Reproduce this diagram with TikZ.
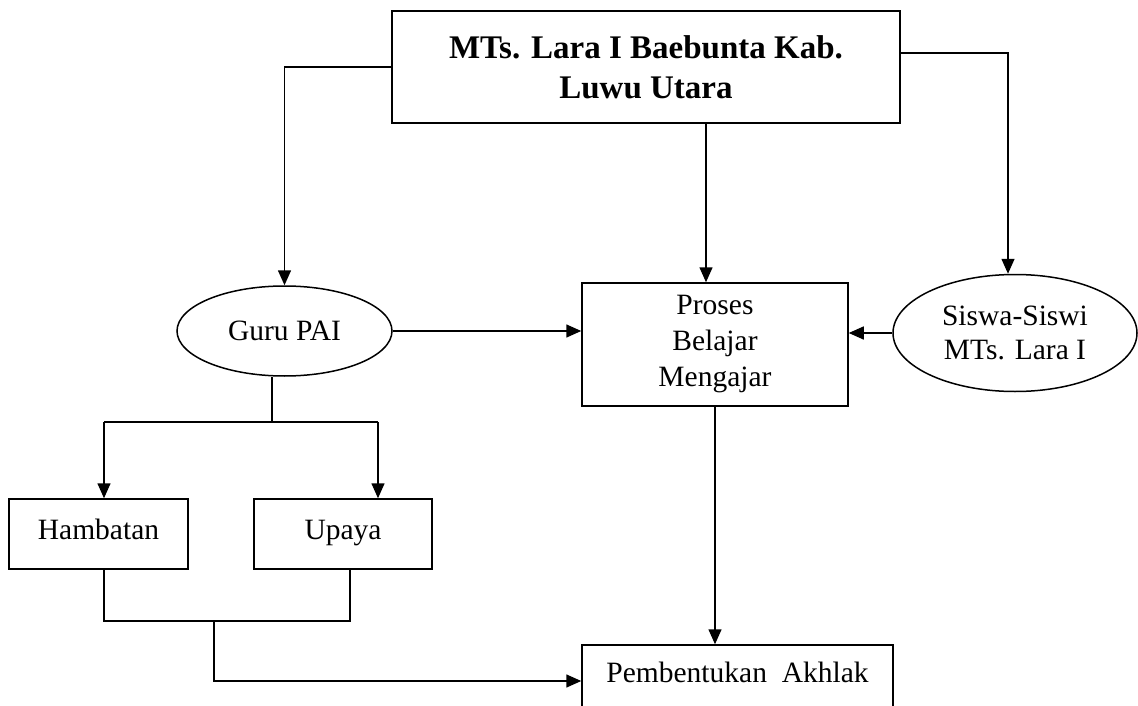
\documentclass[tikz,border=0pt]{standalone}
\usepackage{fontspec}
\setmainfont{Liberation Serif}
\usetikzlibrary{arrows.meta,shapes.geometric,calc}
\begin{document}
\begin{tikzpicture}[x=1pt,y=-1pt,
  line width=1.5pt,
  box/.style={draw,rectangle,inner sep=0pt,align=center,font=\fontsize{29.5}{36}\selectfont},
  oval/.style={draw,ellipse,inner sep=0pt,align=center,font=\fontsize{29.5}{34.5}\selectfont},
  arr/.style={-{Triangle[length=15pt,width=13pt]}},
  conn/.style={line width=1.5pt}]
\useasboundingbox (0,0) rectangle (1138,706);
\clip (0,0) rectangle (1138,706);
\node[box,minimum width=508pt,minimum height=112pt,font=\bfseries\fontsize{33}{40}\selectfont] (top) at (646,67) {MTs. Lara I Baebunta Kab.\\Luwu Utara};
\node[box,minimum width=266pt,minimum height=123pt] (proses) at (715,344.5) {Proses\\Belajar\\Mengajar};
\node[oval,minimum width=215pt,minimum height=90pt] (guru) at (284.5,331) {Guru PAI};
\node[oval,minimum width=244pt,minimum height=117pt] (siswa) at (1015,333) {Siswa-Siswi\\MTs. Lara I};
\node[box,minimum width=179pt,minimum height=70pt,text height=20pt,text depth=9pt] (hamb) at (98.5,534) {Hambatan};
\node[box,minimum width=178pt,minimum height=70pt,text height=20pt,text depth=9pt] (upaya) at (343,534) {Upaya};
\node[box,minimum width=311pt,minimum height=62pt,text height=20pt,text depth=7pt] (pemb) at (737.5,676) {Pembentukan~~Akhlak};
% connectors from top
\draw[conn,arr] (top.west) -| (guru.north);
\draw[conn,arr] ([yshift=14pt]top.east) -| ([xshift=-7pt]siswa.north);
\draw[conn,arr] ([xshift=60pt]top.south) -- ([xshift=-9pt]proses.north);
\draw[conn,arr] (guru.east) -- (guru.east -| proses.west);
\draw[conn,arr] (siswa.west) -- (siswa.west -| proses.east);
\draw[conn,arr] (proses.south) -- (proses.south |- pemb.north);
% guru split
\coordinate (gs) at (272,422);
\coordinate (hl) at (104,422);
\coordinate (hr) at (378,422);
\draw[conn] (gs |- guru.south) -- (gs);
\draw[conn] (hl) -- (hr);
\draw[conn,arr] (hl) -- (hl |- hamb.north);
\draw[conn,arr] (hr) -- (hr |- upaya.north);
% join
\coordinate (bl) at (104,621);
\coordinate (br) at (350,621);
\coordinate (bj) at (214,621);
\draw[conn] (bl |- hamb.south) -- (bl) -- (br) -- (br |- upaya.south);
\draw[conn,arr] (bj) |- ([yshift=-5pt]pemb.west);
\end{tikzpicture}
\end{document}
